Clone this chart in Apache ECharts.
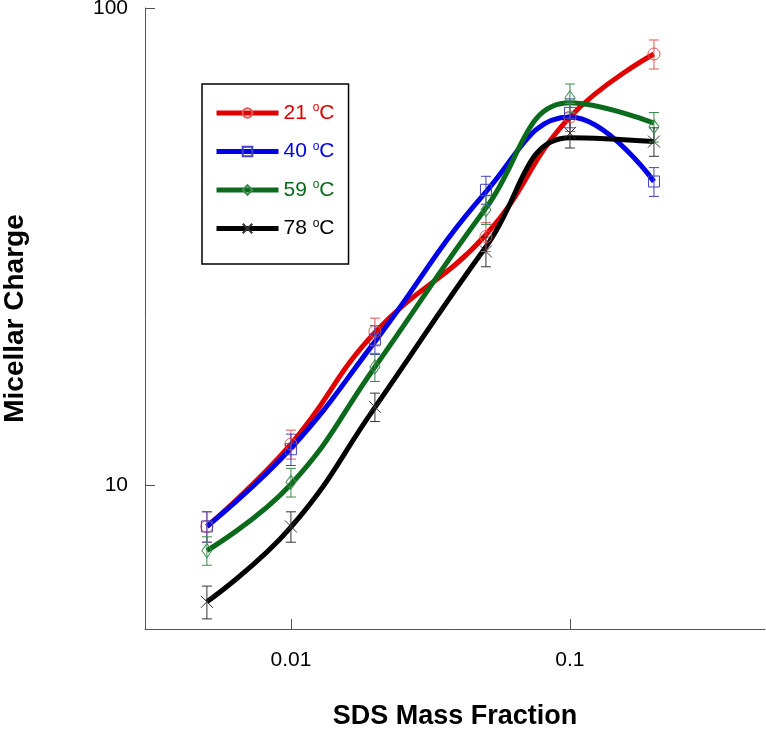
<!DOCTYPE html>
<html><head><meta charset="utf-8">
<script src="https://cdn.jsdelivr.net/npm/echarts@6/dist/echarts.min.js"></script>
<style>html,body{margin:0;padding:0;background:#fff}#c{width:766px;height:730px}</style>
</head><body><div id="c"></div>
<script>
const massFraction = [0.005, 0.01, 0.02, 0.05, 0.1, 0.2];
const temps = ['21', '40', '59', '78'];
const xTicks = [0.01, 0.1];
const yTicks = [10, 100];
// measured points
const charge21 = [8.2, 12.2, 21.0, 33.2, 59.1, 80.1];
const charge40 = [8.2, 11.9, 20.2, 41.6, 60.3, 43.3];
const charge59 = [7.3, 10.15, 17.7, 37.8, 64.8, 56.4];
const charge78 = [5.7, 8.2, 14.6, 30.9, 54.7, 52.5];
// error bar half-heights
const err21 = [0.6, 0.85, 1.4, 2.3, 4.0, 5.6];
const err40 = [0.6, 0.9, 1.4, 2.8, 4.2, 3.0];
const err59 = [0.5, 0.7, 1.2, 2.6, 4.5, 4.0];
const err78 = [0.45, 0.6, 1.0, 2.2, 3.8, 3.6];
// smoothed fit curves, read at the same x values
const fit21 = [8.2, 12.2, 20.9, 33.5, 59.1, 80.1];
const fit40 = [8.2, 11.95, 20.0, 41.2, 59.1, 43.3];
const fit59 = [7.3, 10.05, 17.7, 38.1, 63.3, 57.4];
const fit78 = [5.7, 8.17, 14.56, 31.6, 53.5, 52.5];

const lineColors = ['#e00000', '#0000e6', '#0c6a1c', '#000000'];
const markColors = ['#e05555', '#4040c0', '#3d8a4d', '#333333'];
const symbols = ['circle', 'rect', 'diamond', 'path://M0,0L10,10M10,0L0,10'];
const symSizes = [12, 11, [10, 14], 12];
const points = [charge21, charge40, charge59, charge78];
const errs = [err21, err40, err59, err78];
const fits = [fit21, fit40, fit59, fit78];
const clear = 'rgba(255,255,255,0)';

const pairs = arr => massFraction.map((x, i) => [x, arr[i]]);

const series = [];
temps.forEach((t, k) => {
  series.push({
    name: t, type: 'line', smooth: 0.45, z: 2,
    data: pairs(fits[k]),
    showSymbol: false,
    symbol: symbols[k], symbolSize: symSizes[k],
    lineStyle: { color: lineColors[k], width: 5 },
    itemStyle: { color: clear, borderColor: markColors[k], borderWidth: 1 },
    emphasis: { disabled: true }
  });
});
temps.forEach((t, k) => {
  series.push({
    type: 'custom', z: 3, silent: true,
    data: massFraction.map((x, i) => [x, points[k][i] - errs[k][i], points[k][i] + errs[k][i]]),
    renderItem: (params, api) => {
      const lo = api.coord([api.value(0), api.value(1)]);
      const hi = api.coord([api.value(0), api.value(2)]);
      const w = 5;
      const st = { stroke: markColors[k], lineWidth: 1 };
      return { type: 'group', children: [
        { type: 'line', shape: { x1: lo[0], y1: lo[1], x2: hi[0], y2: hi[1] }, style: st },
        { type: 'line', shape: { x1: lo[0] - w, y1: lo[1], x2: lo[0] + w, y2: lo[1] }, style: st },
        { type: 'line', shape: { x1: hi[0] - w, y1: hi[1], x2: hi[0] + w, y2: hi[1] }, style: st }
      ]};
    }
  });
  series.push({
    type: 'scatter', z: 4, silent: true,
    data: pairs(points[k]),
    symbol: symbols[k], symbolSize: symSizes[k],
    itemStyle: { color: clear, borderColor: markColors[k], borderWidth: 1, opacity: 1 }
  });
});

const rich = {};
temps.forEach((t, k) => {
  rich['a' + k] = { fontSize: 21, color: lineColors[k], fontFamily: 'Liberation Sans', lineHeight: 22 };
  rich['s' + k] = { fontSize: 12, color: lineColors[k], fontFamily: 'Liberation Sans', verticalAlign: 'top', lineHeight: 22, padding: [0, 0, 8, 0] };
});

const chart = echarts.init(document.getElementById('c'), null, { renderer: 'canvas' });
chart.setOption({
  animation: false,
  backgroundColor: '#fff',
  grid: { left: 145, top: 8, right: 1, bottom: 101, containLabel: false, outerBoundsMode: 'none' },
  legend: {
    orient: 'vertical', left: 202, top: 84,
    padding: [18, 14, 25, 12],
    borderColor: '#000', borderWidth: 1.5,
    itemWidth: 62, itemHeight: 12, itemGap: 17,
    lineStyle: { width: 5 },
    data: temps.map(t => ({ name: t })),
    formatter: name => { const k = temps.indexOf(name); return `{a${k}|${name} }{s${k}|o}{a${k}|C}`; },
    textStyle: { rich },
    selectedMode: false
  },
  xAxis: {
    type: 'log', min: 0.003, max: 0.5, logBase: 10,
    name: 'SDS Mass Fraction', nameLocation: 'middle', nameGap: 74,
    nameTextStyle: { fontSize: 27, fontWeight: 'bold', color: '#000', fontFamily: 'Liberation Sans' },
    axisLine: { lineStyle: { color: '#555', width: 1 } },
    axisTick: { inside: true, length: 10, customValues: xTicks, lineStyle: { color: '#555' } },
    minorTick: { show: false },
    axisLabel: { customValues: xTicks, margin: 21, fontSize: 21, color: '#000', fontFamily: 'Liberation Sans',
      formatter: v => String(+v.toPrecision(3)) },
    splitLine: { show: false }
  },
  yAxis: {
    type: 'log', min: 5, max: 100, logBase: 10,
    name: 'Micellar Charge', nameLocation: 'middle', nameGap: 116,
    nameTextStyle: { fontSize: 28, fontWeight: 'bold', color: '#000', fontFamily: 'Liberation Sans' },
    axisLine: { lineStyle: { color: '#555', width: 1 } },
    axisTick: { inside: true, length: 10, customValues: yTicks, lineStyle: { color: '#555' } },
    axisLabel: { customValues: yTicks, margin: 17, fontSize: 21, color: '#000', fontFamily: 'Liberation Sans' },
    splitLine: { show: false }
  },
  series
});
</script></body></html>
